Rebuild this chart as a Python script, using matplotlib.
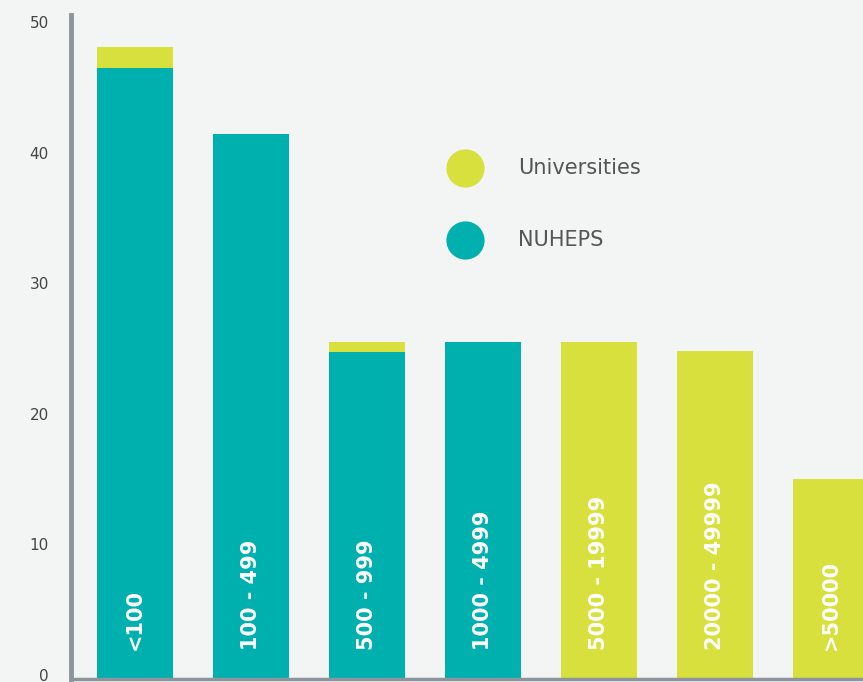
import matplotlib
matplotlib.use("Agg")
from matplotlib import pyplot as plt
from matplotlib.lines import Line2D
import matplotlib.transforms as mtransforms
import numpy as np

# size bands and counts
categories = ["<100", "100 - 499", "500 - 999", "1000 - 4999",
              "5000 - 19999", "20000 - 49999", ">50000"]
nuheps = [46.8, 41.7, 25.0, 25.8, 0, 0, 0]
universities = [1.6, 0, 0.8, 0, 25.8, 25.1, 15.3]
series = ["Universities", "NUHEPS"]

teal = "#00b0ae"
lime = "#d7e03c"
bg = "#f3f4f4"
spine = "#8c959b"

fig = plt.figure(figsize=(8.63, 6.82), dpi=100, facecolor=bg)
W, H = 863, 682
ax = fig.add_axes([71 / W, 3 / H, 1 - 71 / W, (679 - 15) / H])
ax.set_facecolor(bg)

x = np.arange(len(categories))
ax.bar(x, nuheps, width=0.66, color=teal, linewidth=0)
ax.bar(x, universities, width=0.66, bottom=nuheps, color=lime, linewidth=0)

# rotated labels inside the bars
for xi, label in zip(x, categories):
    ax.text(xi, 2.2, label, rotation=90, ha="center", va="bottom",
            color="white", fontsize=15, fontweight="bold")

ax.set_xlim(-0.552, 6.276)
ax.set_ylim(0, 50.84)
ax.set_yticks([0, 10, 20, 30, 40, 50])
ax.set_xticks([])
ax.tick_params(axis="y", length=0, pad=16, labelsize=11, labelcolor="#444444")
# tick labels sit a few pixels above their gridline in the original
shift = mtransforms.ScaledTranslation(0, 4 / 100, fig.dpi_scale_trans)
for lbl in ax.get_yticklabels():
    lbl.set_transform(lbl.get_transform() + shift)
for s in ["top", "right"]:
    ax.spines[s].set_visible(False)
ax.spines["left"].set_color(spine)
ax.spines["left"].set_linewidth(3.5)
ax.spines["bottom"].set_color(spine)
ax.spines["bottom"].set_linewidth(2.5)

# legend drawn by hand: big dots with the series names beside them
for name, col, ypx in zip(series, [lime, teal], [168, 240]):
    fig.add_artist(Line2D([465 / W], [1 - ypx / H], marker="o", linestyle="none",
                          markersize=27.5, markerfacecolor=col, markeredgewidth=0))
    fig.text(518 / W, 1 - ypx / H, name, ha="left", va="center",
             fontsize=15, color="#555555")

fig.savefig("out.png", dpi=100, facecolor=bg)
